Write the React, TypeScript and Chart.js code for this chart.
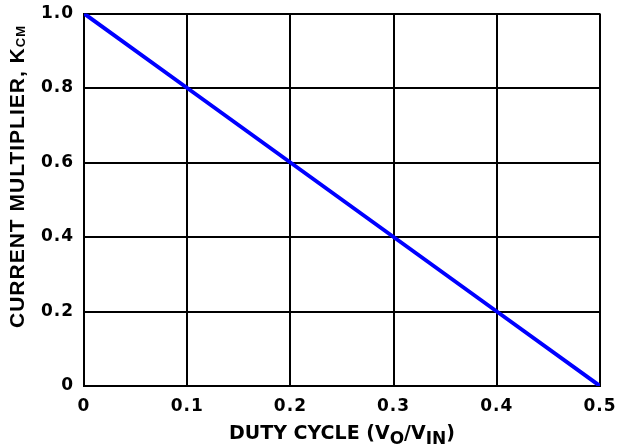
import React, { useEffect, useRef } from 'react';
import { Chart, registerables } from 'chart.js';

Chart.register(...registerables);

// ---- data ----
const dutyCycle = [0, 0.1, 0.2, 0.3, 0.4, 0.5];
const kcm = [1.0, 0.8, 0.6, 0.4, 0.2, 0];
const xTickLabels = ['0', '0.1', '0.2', '0.3', '0.4', '0.5'];
const yTickLabels = ['0', '0.2', '0.4', '0.6', '0.8', '1.0'];
const xTitleParts: [string, boolean][] = [
  ['DUTY CYCLE (V', false],
  ['O', true],
  ['/V', false],
  ['IN', true],
  [')', false],
];
const yTitleParts: [string, boolean][] = [
  ['CURRENT MULTIPLIER, K', false],
  ['CM', true],
];

const TICK_FONT = 'DejaVu Sans';
const TICK_SPACING = '1px';

const titlesPlugin = {
  id: 'subscriptTitles',
  beforeUpdate(chart: any) {
    chart.ctx.letterSpacing = TICK_SPACING;
  },
  beforeDraw(chart: any) {
    chart.ctx.letterSpacing = TICK_SPACING;
  },
  afterDraw(chart: any) {
    const ctx = chart.ctx as CanvasRenderingContext2D;
    const area = chart.chartArea;
    // X title
    ctx.save();
    ctx.fillStyle = '#000';
    (ctx as any).letterSpacing = '0px';
    ctx.textBaseline = 'alphabetic';
    ctx.textAlign = 'left';
    const xMain = 'bold 19px "DejaVu Sans"';
    const xSub = 'bold 17px "DejaVu Sans"';
    let total = 0;
    for (const [t, s] of xTitleParts) {
      ctx.font = s ? xSub : xMain;
      total += ctx.measureText(t).width;
    }
    let x = (area.left + area.right) / 2 - total / 2;
    const baseY = 439;
    for (const [t, s] of xTitleParts) {
      ctx.font = s ? xSub : xMain;
      ctx.fillText(t, x, s ? baseY + 5 : baseY);
      x += ctx.measureText(t).width;
    }
    ctx.restore();

    // Y title (rotated)
    ctx.save();
    ctx.fillStyle = '#000';
    (ctx as any).letterSpacing = '1px';
    ctx.translate(24, 328);
    ctx.rotate(-Math.PI / 2);
    ctx.textBaseline = 'alphabetic';
    ctx.textAlign = 'left';
    const yMain = 'bold 21px "Liberation Sans"';
    const ySub = 'bold 13px "Liberation Sans"';
    let p = 0;
    for (const [t, s] of yTitleParts) {
      ctx.font = s ? ySub : yMain;
      ctx.fillText(t, p, s ? 1 : 0);
      p += ctx.measureText(t).width;
    }
    ctx.restore();
  },
};

const zeroPadding = (s: any) => {
  s.paddingTop = 0;
  s.paddingBottom = 0;
  s.paddingLeft = 0;
  s.paddingRight = 0;
};

export default function App() {
  const ref = useRef<HTMLCanvasElement | null>(null);

  useEffect(() => {
    if (!ref.current) return;
    const chart = new Chart(ref.current, {
      type: 'line',
      data: {
        datasets: [
          {
            data: dutyCycle.map((d, i) => ({ x: d, y: kcm[i] })),
            borderColor: '#0000FF',
            borderWidth: 4,
            pointRadius: 0,
            tension: 0,
            fill: false,
          },
        ],
      },
      options: {
        animation: false,
        responsive: true,
        maintainAspectRatio: false,
        layout: { padding: { top: 13.5, right: 18, left: 0, bottom: 0 } },
        plugins: {
          legend: { display: false },
          tooltip: { enabled: false },
        },
        scales: {
          x: {
            type: 'linear',
            min: 0,
            max: 0.5,
            afterFit: (s: any) => {
              s.height = 59;
              zeroPadding(s);
            },
            ticks: {
              stepSize: 0.1,
              color: '#000',
              padding: 10,
              maxRotation: 0,
              font: { family: TICK_FONT, weight: 'bold', size: 17 },
              callback: (_v: any, i: number) => xTickLabels[i],
            },
            grid: { color: '#000', lineWidth: 2, drawTicks: false },
            border: { display: true, color: '#000', width: 2 },
          },
          y: {
            type: 'linear',
            min: 0,
            max: 1,
            afterFit: (s: any) => {
              s.width = 84;
              zeroPadding(s);
            },
            ticks: {
              stepSize: 0.2,
              color: '#000',
              padding: 10,
              font: { family: TICK_FONT, weight: 'bold', size: 17 },
              callback: (_v: any, i: number) => yTickLabels[i],
            },
            grid: { color: '#000', lineWidth: 2, drawTicks: false },
            border: { display: true, color: '#000', width: 2 },
          },
        },
      },
      plugins: [titlesPlugin],
    });
    return () => chart.destroy();
  }, []);

  return (
    <div style={{ position: 'absolute', left: 0, top: 0, width: 618, height: 445 }}>
      <canvas ref={ref} />
    </div>
  );
}
